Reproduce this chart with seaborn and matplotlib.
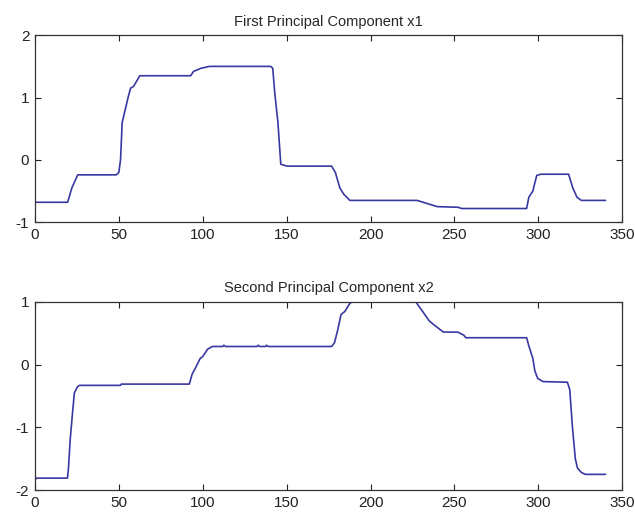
import matplotlib
matplotlib.use("Agg")
import matplotlib.pyplot as plt
import pandas as pd
import seaborn as sns

# Breakpoints of the first principal component (sample index, score)
pc1_x = [0, 19.5, 22, 25.5, 48.5, 50, 51, 52, 55.5, 57, 58.8, 62.5, 92.8, 94.5, 99, 104,
         140.5, 141.7, 143, 144.8, 146.5, 150.2, 176.8, 179, 181.7, 184, 187.7, 227.7,
         233.7, 239.8, 252, 254.3, 293, 294.3, 296.7, 299, 301.4, 318, 320.5, 323, 325.6, 340]
pc1_y = [-0.68, -0.68, -0.45, -0.24, -0.24, -0.2, 0.0, 0.6, 1.0, 1.15, 1.18, 1.35, 1.35, 1.42,
         1.47, 1.5, 1.5, 1.47, 1.05, 0.6, -0.07, -0.1, -0.1, -0.2, -0.45, -0.55, -0.65, -0.65,
         -0.7, -0.75, -0.76, -0.78, -0.78, -0.6, -0.5, -0.25, -0.23, -0.23, -0.45, -0.6, -0.65, -0.65]

# Breakpoints of the second principal component
pc2_x = [0, 1, 19.4, 20, 21, 22.3, 23.5, 25.4, 26.6, 50.9, 51.5, 92, 93.7, 95.7, 98.5, 100,
         103, 105.8, 112, 112.6, 113.5, 132.5, 133, 134, 137.5, 138, 139, 176.8, 178.5, 180.4,
         182.4, 184.7, 187.7, 189, 227, 231, 234.9, 238.5, 243.4, 252, 255.6, 256.7, 293,
         294.3, 296.7, 297.9, 299.6, 302.8, 317.3, 318.7, 320.3, 322, 323.3, 325.6, 328, 340]
pc2_y = [-1.84, -1.81, -1.81, -1.65, -1.2, -0.8, -0.45, -0.35, -0.33, -0.33, -0.31, -0.31,
         -0.15, -0.05, 0.1, 0.13, 0.25, 0.29, 0.29, 0.31, 0.29, 0.29, 0.31, 0.29, 0.29, 0.31,
         0.29, 0.29, 0.35, 0.55, 0.8, 0.85, 0.98, 1.0, 1.0, 0.85, 0.7, 0.62, 0.52, 0.52, 0.47,
         0.43, 0.43, 0.3, 0.1, -0.1, -0.22, -0.27, -0.28, -0.4, -1.0, -1.5, -1.65, -1.72,
         -1.75, -1.75]

titles = ["First Principal Component x1", "Second Principal Component x2"]
y_limits = [(-1, 2), (-2, 1)]
x_ticks = [0, 50, 100, 150, 200, 250, 300, 350]

sns.set_style("ticks")
plt.rcParams["font.family"] = ["Liberation Sans Narrow", "Liberation Sans", "DejaVu Sans"]
plt.rcParams["axes.unicode_minus"] = False

fig = plt.figure(figsize=(6.35, 5.18), dpi=100)
ax1 = fig.add_axes([0.055, 0.571, 0.925, 0.361])
ax2 = fig.add_axes([0.055, 0.054, 0.925, 0.363])

line_color = "#3838a2"
series = [(pc1_x, pc1_y), (pc2_x, pc2_y)]
for ax, (xs, ys), title, ylim in zip([ax1, ax2], series, titles, y_limits):
    df = pd.DataFrame({"t": xs, "v": ys})
    sns.lineplot(data=df, x="t", y="v", ax=ax, color=line_color, linewidth=1.2,
                 estimator=None, sort=False)
    ax.set_xlim(0, 350)
    ax.set_ylim(*ylim)
    ax.set_xticks(x_ticks)
    ax.set_yticks(range(ylim[0], ylim[1] + 1))
    ax.set_xlabel("")
    ax.set_ylabel("")
    ax.set_title(title, fontsize=10.5, pad=7)
    ax.tick_params(direction="in", length=4, width=0.8, top=True, right=True,
                   labelsize=11, pad=4, colors="#222222")
    for side in ax.spines.values():
        side.set_visible(True)
        side.set_linewidth(0.9)
        side.set_color("#333333")

fig.savefig("out.png", dpi=100, facecolor="white")
